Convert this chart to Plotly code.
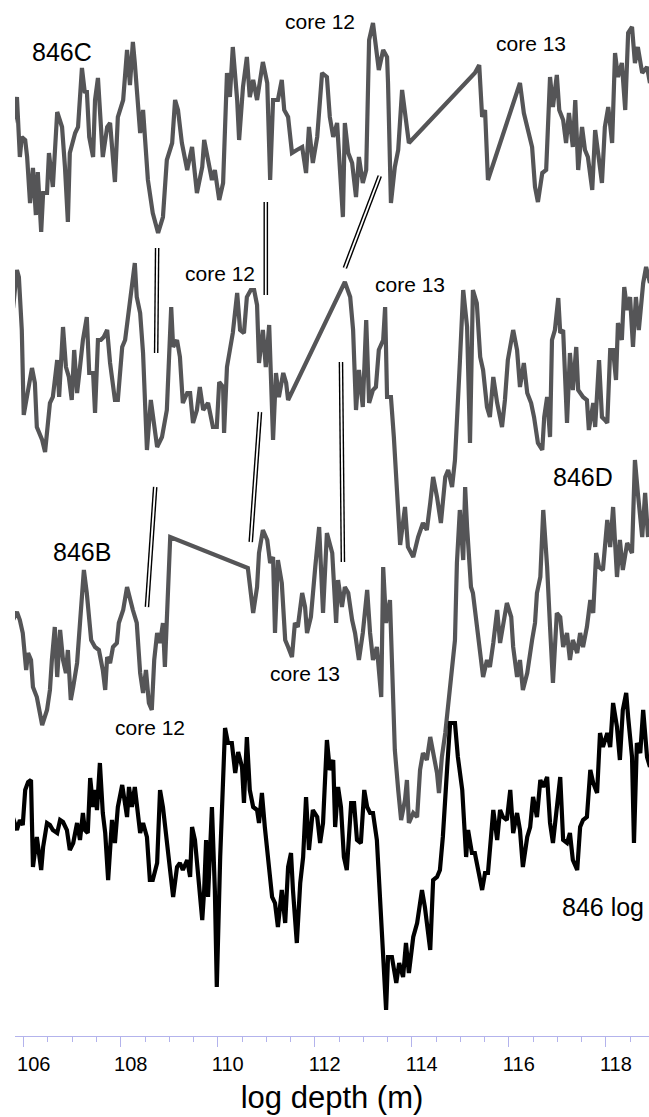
import plotly.graph_objects as go

# ---------------- data (depth in m, signal in arbitrary units) ----------------
depth_846C = [105.78,105.86,105.92,105.96,106.03,106.07,106.13,106.19,106.25,106.29,106.36,106.40,106.48,106.52,106.60,106.69,106.79,106.85,106.91,106.95,
              107.06,107.12,107.20,107.26,107.30,107.35,107.43,107.47,107.53,107.59,107.63,107.72,107.78,107.88,107.94,108.05,108.13,108.19,108.25,108.29,
              108.40,108.46,108.56,108.66,108.77,108.87,108.95,109.06,109.12,109.18,109.26,109.37,109.47,109.57,109.68,109.72,109.80,109.88,109.94,110.03,
              110.11,110.19,110.25,110.31,110.40,110.44,110.52,110.60,110.66,110.73,110.81,110.93,111.02,111.08,111.14,111.24,111.32,111.37,111.45,111.53,
              111.63,111.74,111.82,111.88,111.96,112.05,112.15,112.25,112.31,112.38,112.46,112.54,112.58,112.62,112.69,112.77,112.85,112.91,112.99,113.06,
              113.12,113.20,113.26,113.32,113.41,113.49,113.51,113.57,113.65,113.72,113.80,113.86,113.94,115.30,115.39,115.45,115.51,115.57,116.23,116.31,
              116.40,116.48,116.54,116.60,116.69,116.77,116.85,116.91,116.99,117.04,117.12,117.18,117.24,117.32,117.37,117.43,117.51,117.57,117.63,117.72,
              117.78,117.84,117.92,117.98,118.05,118.13,118.19,118.25,118.33,118.40,118.46,118.54,118.60,118.66,118.75,118.85,118.91]
signal_846C = [127,153,93,113,110,93,47,82,35,78,18,57,57,97,63,138,123,83,28,97,
               117,123,182,157,160,113,93,150,172,113,93,123,127,68,133,150,200,165,208,187,
               117,140,70,37,17,33,90,107,150,140,107,80,103,57,83,110,90,70,80,50,
               67,177,153,203,150,110,163,193,153,170,150,188,167,70,150,150,170,140,133,97,
               100,103,77,123,87,113,177,173,133,113,127,70,33,127,97,87,53,93,67,80,
               210,227,203,180,200,193,167,47,83,100,160,140,107,177,185,133,140,70,167,137,
               117,103,63,48,77,80,173,143,175,140,130,107,137,103,150,80,123,100,93,60,
               120,100,67,123,143,107,197,173,187,140,217,223,187,203,177,183,167]

depth_846D = [105.78,105.86,105.90,105.96,106.00,106.09,106.17,106.23,106.27,106.38,106.44,106.54,106.60,106.69,106.73,106.81,106.87,106.93,106.99,107.04,
              107.10,107.16,107.22,107.30,107.35,107.43,107.47,107.53,107.59,107.65,107.72,107.78,107.88,107.94,108.03,108.09,108.15,108.21,108.25,108.29,
              108.33,108.40,108.46,108.54,108.62,108.69,108.75,108.85,108.95,109.04,109.08,109.16,109.22,109.28,109.37,109.43,109.49,109.57,109.63,109.70,
              109.80,109.90,109.98,110.03,110.11,110.13,110.19,110.25,110.31,110.40,110.46,110.54,110.60,110.68,110.75,110.81,110.85,110.93,110.99,111.06,
              111.10,111.14,111.20,111.26,111.35,111.41,111.45,112.62,112.73,112.79,112.85,112.91,112.99,113.06,113.12,113.20,113.26,113.32,113.41,113.45,
              113.49,113.57,113.63,113.70,113.76,113.86,113.92,114.03,114.13,114.23,114.31,114.38,114.44,114.52,114.60,114.69,114.75,114.83,114.89,114.99,
              115.06,115.14,115.20,115.26,115.34,115.41,115.47,115.55,115.61,115.68,115.76,115.86,115.92,115.98,116.09,116.17,116.23,116.31,116.38,116.46,
              116.52,116.60,116.69,116.73,116.79,116.85,116.89,116.95,117.02,117.06,117.12,117.20,117.26,117.32,117.39,117.43,117.53,117.61,117.65,117.74,
              117.78,117.86,117.92,117.98,118.03,118.09,118.15,118.21,118.25,118.33,118.38,118.44,118.50,118.56,118.62,118.68,118.77,118.83,118.91]
signal_846D = [192,230,223,170,85,113,132,117,73,60,48,97,103,140,103,173,133,123,100,150,
               107,133,160,183,127,127,87,160,160,163,170,137,100,100,153,160,183,207,217,237,
               203,187,147,50,100,70,53,63,90,193,153,160,143,97,107,107,77,90,113,90,
               97,73,73,118,113,67,133,150,167,207,170,167,203,210,210,195,137,170,133,175,
               117,60,127,103,127,117,100,218,203,170,90,130,93,180,97,110,113,150,160,193,
               103,103,63,7,-45,-7,-47,-57,-37,-23,-30,-3,23,3,-23,23,30,13,40,137,
               210,173,57,210,197,143,130,93,83,123,97,73,100,140,170,150,113,137,107,97,
               83,57,50,83,103,63,160,170,202,167,170,77,147,110,153,110,103,100,70,97,
               73,140,83,80,77,150,150,120,177,160,213,190,203,153,203,170,217,233,217]

depth_846B = [105.78,105.86,105.92,105.98,106.05,106.09,106.15,106.19,106.27,106.33,106.38,106.48,106.54,106.58,106.64,106.69,106.75,106.81,106.87,106.91,
              106.97,107.02,107.10,107.16,107.24,107.30,107.39,107.47,107.55,107.63,107.68,107.72,107.78,107.84,107.92,107.96,108.05,108.13,108.19,108.25,
              108.33,108.40,108.46,108.52,108.58,108.64,108.69,108.75,108.81,108.87,108.91,108.95,109.02,110.62,110.68,110.73,110.81,110.85,110.93,111.02,
              111.08,111.14,111.18,111.24,111.32,111.39,111.45,111.53,111.59,111.65,111.74,111.80,111.84,111.92,112.01,112.09,112.17,112.25,112.36,112.44,
              112.48,112.56,112.62,112.69,112.77,112.83,112.91,112.99,113.08,113.14,113.20,113.28,113.37,113.41,113.47,113.55,113.63,113.65,113.72,113.78,
              113.86,113.90,113.94,114.03,114.11,114.17,114.23,114.31,114.38,114.44,114.52,114.56,114.62,114.69,114.75,114.83,114.89,114.93,114.99,115.06,
              115.10,115.14,115.22,115.26,115.34,115.41,115.47,115.55,115.61,115.68,115.76,115.82,115.88,115.96,116.05,116.09,116.17,116.23,116.29,116.38,
              116.48,116.54,116.58,116.65,116.71,116.79,116.85,116.91,116.99,117.06,117.12,117.20,117.26,117.32,117.41,117.47,117.53,117.61,117.68,117.74,
              117.80,117.86,117.94,118.03,118.09,118.15,118.23,118.29,118.35,118.44,118.54,118.60,118.66,118.75,118.81,118.87]
signal_846B = [130,138,130,117,80,97,90,63,53,37,25,40,60,90,123,73,120,90,77,100,
               50,63,87,127,180,157,110,103,100,80,60,93,87,103,107,127,140,163,150,140,
               127,77,57,80,47,40,90,117,107,127,83,130,213,182,157,137,163,197,220,210,
               187,193,117,190,167,110,103,93,127,123,157,143,117,133,183,223,137,217,197,127,
               170,143,163,157,130,117,90,117,160,117,90,103,53,183,127,150,30,0,-40,-70,
               -50,-30,-73,-63,-67,-20,-3,-10,13,-3,-23,-43,-7,17,47,83,110,187,240,190,
               263,223,163,157,123,90,73,90,83,107,140,107,123,147,133,103,73,90,60,77,
               110,127,157,173,240,183,123,67,137,133,103,117,90,110,97,117,103,123,150,137,
               197,183,180,230,203,243,173,210,180,207,197,290,257,213,257,213]

depth_log = [105.78,105.86,105.92,105.98,106.03,106.09,106.15,106.19,106.27,106.36,106.40,106.48,106.54,106.60,106.69,106.75,106.81,106.89,106.95,107.02,
             107.10,107.16,107.22,107.26,107.32,107.37,107.43,107.47,107.51,107.57,107.63,107.68,107.74,107.82,107.88,107.94,108.03,108.07,108.13,108.17,
             108.23,108.29,108.33,108.40,108.46,108.54,108.60,108.66,108.75,108.81,108.87,108.95,109.02,109.08,109.16,109.22,109.28,109.37,109.43,109.47,
             109.53,109.59,109.68,109.72,109.76,109.80,109.88,109.94,109.98,110.05,110.11,110.15,110.21,110.29,110.36,110.42,110.50,110.54,110.60,110.66,
             110.73,110.81,110.85,110.91,110.97,111.04,111.12,111.18,111.24,111.32,111.39,111.45,111.51,111.55,111.63,111.70,111.76,111.82,111.88,111.96,
             112.05,112.11,112.17,112.25,112.31,112.38,112.42,112.48,112.54,112.60,112.66,112.75,112.81,112.87,112.95,113.02,113.08,113.14,113.20,113.28,
             113.34,113.41,113.47,113.51,113.59,113.68,113.74,113.82,113.88,113.94,114.03,114.11,114.21,114.27,114.38,114.44,114.52,114.58,114.64,114.73,
             114.79,114.89,114.95,115.04,115.08,115.12,115.16,115.24,115.30,115.37,115.45,115.51,115.57,115.68,115.76,115.82,115.88,115.96,116.03,116.09,
             116.17,116.23,116.29,116.38,116.44,116.50,116.58,116.65,116.71,116.79,116.85,116.91,116.99,117.06,117.12,117.20,117.26,117.32,117.41,117.47,
             117.53,117.61,117.68,117.74,117.82,117.88,117.94,118.03,118.09,118.15,118.23,118.29,118.35,118.42,118.46,118.54,118.58,118.64,118.71,118.77,
             118.85,118.91]
signal_log = [202,190,200,195,230,238,240,153,183,150,173,197,195,190,187,200,198,190,170,177,
              197,180,207,190,187,242,213,230,210,257,207,187,140,200,177,213,235,220,203,233,
              213,233,213,187,197,183,140,140,157,230,213,177,150,123,153,157,150,160,143,193,
              180,143,100,130,180,123,213,130,33,163,253,292,277,277,247,268,253,217,283,230,
              213,210,197,227,193,163,123,117,93,130,97,153,167,130,77,137,163,223,170,210,
              203,177,197,280,250,260,193,233,213,163,150,217,217,180,177,230,213,207,207,180,
              123,63,10,63,63,37,57,43,77,47,83,97,130,113,70,140,143,150,183,253,
              297,297,263,230,190,163,190,167,167,150,130,147,147,210,180,210,203,200,230,187,
              207,190,153,183,193,223,203,240,233,243,197,177,213,243,180,177,187,160,150,193,
              200,203,250,237,227,287,273,287,273,317,293,260,310,327,303,263,177,277,267,310,
              263,253]

series_names = ["846C", "846D", "846B", "846 log"]
series_offsets = [786, 536, 286, 16]

# tie lines between holes: (depth_top, level_top, depth_bottom, level_bottom)
tie_depth_top = [108.75, 110.99, 113.34, 108.71, 110.87, 112.54]
tie_level_top = [788, 834, 860, 549, 624, 674]
tie_depth_bot = [108.73, 110.99, 112.62, 108.54, 110.68, 112.58]
tie_level_bot = [683, 741, 768, 429, 494, 474]

label_text = ["846C", "core 12", "core 13", "core 12", "core 13", "846D", "846B", "core 13", "core 12", "846 log"]
label_depth = [106.79, 112.11, 116.46, 110.05, 113.96, 117.53, 107.20, 111.80, 108.60, 117.94]
label_level = [984, 1015, 993, 763, 752, 559, 484, 363, 309, 129]
label_size = [25, 21, 21, 21, 21, 25, 25, 21, 21, 25]

# ---------------- figure ----------------
GRAY = "#555557"
fig = go.Figure()

series = [(depth_846C, signal_846C, GRAY), (depth_846D, signal_846D, GRAY),
          (depth_846B, signal_846B, GRAY), (depth_log, signal_log, "#000000")]
for (d, s, col), name, off in zip(series, series_names, series_offsets):
    fig.add_trace(go.Scatter(x=d, y=[v + off for v in s], mode="lines", name=name,
                             line=dict(color=col, width=4.2), hoverinfo="skip"))

for dt, lt, db, lb in zip(tie_depth_top, tie_level_top, tie_depth_bot, tie_level_bot):
    fig.add_trace(go.Scatter(x=[dt, db], y=[lt, lb], mode="lines",
                             line=dict(color="black", width=4.6), hoverinfo="skip"))
    fig.add_trace(go.Scatter(x=[dt, db], y=[lt, lb], mode="lines",
                             line=dict(color="white", width=1.8), hoverinfo="skip"))

for t, d, l, sz in zip(label_text, label_depth, label_level, label_size):
    fig.add_annotation(x=d, y=l, text=t, showarrow=False,
                       font=dict(size=sz, color="black", family="Liberation Sans, Arial, sans-serif"))

fig.update_layout(
    width=649, height=1117,
    margin=dict(l=15, r=0, t=0, b=81),
    paper_bgcolor="white", plot_bgcolor="white",
    showlegend=False,
    font=dict(family="Liberation Sans, Arial, sans-serif", color="black"),
)
fig.update_xaxes(
    range=[105.82, 118.89], showgrid=False, zeroline=False,
    showline=True, linecolor="#b3b3ec", linewidth=1,
    ticks="outside", ticklen=10, tickcolor="#b3b3ec", tickwidth=1,
    tick0=106, dtick=2, ticklabelshift=10,
    tickfont=dict(size=20, color="black"),
    minor=dict(dtick=0.5, ticks="outside", ticklen=5, tickcolor="#b3b3ec", tickwidth=1, showgrid=False),
    title=dict(text="log depth (m)", font=dict(size=31, color="black"), standoff=12),
)
fig.update_yaxes(range=[0, 1036], visible=False)

fig.write_html("out.html", config={"displayModeBar": False},
               post_script="document.body.style.margin='0px';document.body.style.overflow='hidden';")
